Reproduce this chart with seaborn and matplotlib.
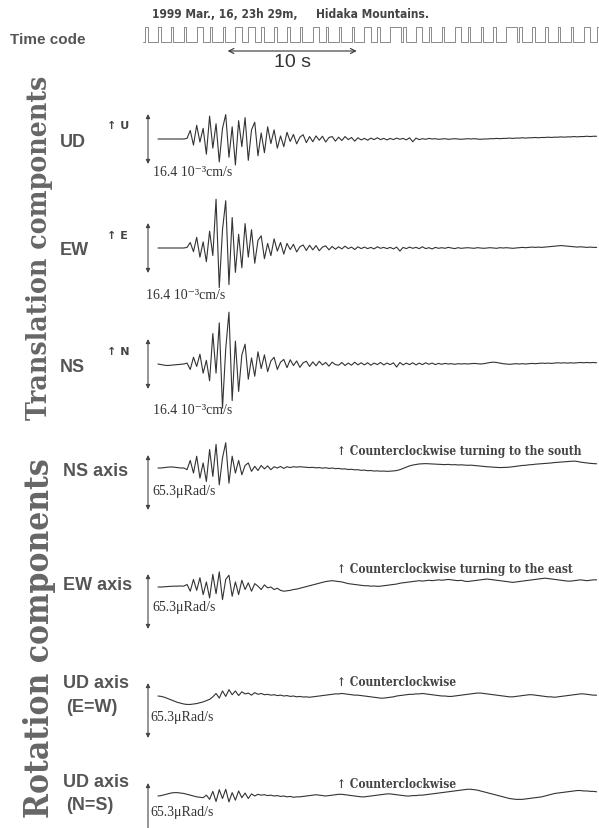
import numpy as np
import matplotlib
matplotlib.use('Agg')
import matplotlib.pyplot as plt
import seaborn as sns

sns.set_theme(style='white')
plt.rcParams['font.family'] = ['DejaVu Sans']

# ---------------- data ----------------
DT = 0.25  # sampling interval of the traces (s)

# translation components, 10^-3 cm/s
ud = [0, 0, 0, 0, 0, 0, 0, 0,
      0, 0.2, 2.8, -2.0, 4.5, -1.0, 3.5, -5.0,
      7.5, -3.0, 5.0, -7.5, 3.5, 8.0, -6.0, 4.0,
      -8.5, 6.0, -2.5, 7.0, -7.0, 3.0, 5.5, -5.5,
      2.0, -4.5, 4.0, -1.5, 3.0, -3.0, 1.0, -2.5,
      2.2, -0.8, 1.5, -1.6, 0.6, 1.4, -1.2, 0.8,
      -0.9, 1.0, -0.4, 0.9, -1.0, 0.5, 0.8, -0.7,
      0.6, -0.5, 0.8, -0.2, 0.5, -0.7, 0.4, -0.3,
      0.2, -0.4, 0.3, -0.2, 0.4, -0.2, 0.2, -0.3,
      0.2, -0.2, 0.3, -0.1, 0.2, -0.3, 0.4, -0.9,
      0.3, -0.2, 0.1, -0.1, 0.2, 0, 0.1, -0.1,
      0, 0.1, -0.1, 0, 0.1, 0, -0.1, 0,
      0.1, 0, 0.1, 0, -0.1, 0, 0, 0.1,
      0.1, 0.2, 0.1, 0.2, 0.2, 0.3, 0.2, 0.3,
      0.3, 0.4, 0.3, 0.4, 0.4, 0.5, 0.4, 0.5,
      0.5, 0.6, 0.5, 0.6, 0.6, 0.7, 0.6, 0.7,
      0.7, 0.8, 0.7, 0.8, 0.8, 0.9, 0.8, 0.9,
      0.9]

ew = [0, 0, 0, 0, 0, 0, 0, 0,
      0, 0.2, 1.8, -1.2, 3.5, -3.0, 2.0, -4.5,
      5.5, -2.5, 16.0, -13.0, 6.0, 15.5, -12.0, 10.0,
      -8.0, 4.5, -6.5, 8.0, -3.0, 6.0, -5.0, 2.5,
      4.0, -3.5, 1.5, -2.5, 3.0, -1.0, 1.8, -2.0,
      1.5, -0.5, 1.2, -1.3, 0.4, 1.0, -0.8, 0.9,
      -0.6, 0.8, -0.9, 0.3, 0.7, -0.6, 0.5, -0.4,
      0.4, -0.3, 0.6, -0.2, 0.3, -0.5, 0.4, -0.2,
      0.3, -0.2, 0.2, -0.3, 0.4, -0.1, 0.2, -0.2,
      0.2, -0.3, 0.3, -1.0, 0.2, -0.2, 0.3, -0.1,
      0.2, -0.2, 0.4, -0.2, 0.1, -0.3, 0.2, -0.1,
      0.1, -0.1, 0.2, 0, -0.2, 0.1, -0.1, 0,
      0.1, 0, -0.1, 0.1, 0, -0.1, 0, 0.1,
      0, -0.1, 0.1, 0, 0.1, 0, -0.1, 0,
      0.1, 0.2, 0.1, 0.2, 0.3, 0.2, 0.3, 0.2,
      0.3, 0.4, 0.5, 0.6, 0.7, 0.8, 0.7, 0.6,
      0.5, 0.4, 0.3, 0.4, 0.3, 0.2, 0.3, 0.2,
      0.2]

ns = [0, -0.2, -0.4, -0.5, -0.4, -0.3, -0.2, -0.1,
      0, 0.3, -1.8, 2.2, -0.8, 3.2, -3.0, 1.2,
      -5.5, 10.0, -3.0, 13.5, -14.5, 5.0, 17.0, -12.0,
      7.5, -9.0, 3.0, 6.5, -5.0, 2.0, -4.0, 4.0,
      -1.5, 3.0, -2.5, 1.0, 2.2, -1.8, 0.6, 1.5,
      -1.2, 1.4, -0.5, 1.0, -1.1, 0.4, 0.9, -0.8,
      0.7, -0.6, 0.9, -0.3, 0.5, -0.7, 0.6, -0.2,
      -0.4, 0.5, -0.5, 0.3, -0.4, 0.6, -0.3, 0.4,
      -0.3, 0.4, -0.4, 0.3, -0.2, 0.5, -0.3, 0.3,
      -0.2, 0.4, -1.0, 0.5, -0.3, 0.3, -0.2, 0.4,
      -0.3, 0.3, -0.2, 0.4, -0.1, 0.3, -0.2, 0.2,
      -0.1, 0.2, 0, 0.1, -0.1, 0.1, 0, 0.1,
      0, 0.1, 0.2, 0.1, 0, 0.1, 0.3, 0.5,
      0.6, 0.5, 0.3, 0.1, 0, -0.1, 0, 0.1,
      0, 0.1, 0, 0.1, 0.2, 0.1, 0.2, 0.3,
      0.2, 0.3, 0.2, 0.3, 0.4, 0.3, 0.4, 0.3,
      0.4, 0.3, 0.4, 0.5, 0.4, 0.5, 0.4, 0.5,
      0.4]

# rotation components, microRad/s
ns_axis = [0, 0, 0.5, 1.0, 1.2, 1.0, 0.5, 0,
           0, -2, 9, -6, 14, -12, 6, -16,
           22, -10, 28, -20, 12, 30, -18, 14,
           -6, 9, -8, 3, 6, -4, 2, -3,
           3, -1, 2.5, -2, 1.5, 0, 1.8, -0.5,
           1.5, 0.5, 1.5, 1, 1.5, 1.2, 1.0, 0.5,
           0.8, 0.2, 0.5, -0.2, 0.3, -0.5, 0, -0.8,
           -0.5, -1.2, -1.0, -1.8, -1.5, -2.2, -2.0, -2.8,
           -2.5, -3.2, -3.0, -3.6, -3.4, -3.8, -3.6, -4.0,
           -3.8, -3.5, -3.0, -2.0, -0.5, 1.0, 2.5, 3.5,
           4.2, 4.8, 5.0, 5.2, 5.0, 4.8, 4.6, 4.5,
           4.2, 4.0, 4.3, 3.8, 4.0, 3.6, 3.8, 3.5,
           3.2, 3.4, 3.0, 2.6, 2.2, 1.8, 1.5, 1.2,
           1.0, 0.8, 0.5, 0.6, 0.8, 1.0, 1.5, 2.0,
           2.5, 3.0, 3.2, 3.8, 4.0, 4.5, 4.8, 5.2,
           5.5, 5.8, 6.0, 6.5, 6.8, 7.2, 7.5, 7.8,
           8.0, 8.2, 7.8, 7.0, 6.5, 6.0, 5.5, 5.2,
           5.0]

ew_axis = [0, 0, 0.3, 0.5, 0.8, 1.0, 1.0, 1.2,
           1.0, 3, -5, 9, -4, 11, -9, 6,
           -13, 15, -8, 18, -15, 9, 14, -11,
           6, -9, 8, -3, 5, -5, 4, 1,
           -3, 2.5, -1, 0, -3, -1.5, -4, -5,
           -4.5, -4, -3, -2.5, -1.5, -0.5, 0.5, 1.5,
           2.5, 3.5, 4.5, 5.5, 6.5, 7, 7.5, 7,
           6.5, 6, 5, 4, 3.5, 3, 2.5, 2,
           1.5, 1.5, 1, 1.2, 0.8, 1, 1.5, 2,
           2.5, 3, 3.5, 4.5, 5, 5.5, 6, 6.5,
           7, 7.5, 7, 7.5, 8, 7.5, 8, 8.5,
           8, 8.5, 9, 8.5, 8, 7.5, 8, 7,
           6.5, 7, 7.5, 8, 8.5, 9, 9.5, 9,
           8.5, 8, 7.5, 7, 6.5, 6, 5.5, 6,
           6.5, 7, 7.5, 8, 8.5, 9, 9.5, 10,
           10.5, 10, 9.5, 9, 8.5, 8, 7.5, 7,
           7, 7.5, 8, 8.5, 8, 7.5, 8, 8.5,
           8.5]

ud_axis_ew = [0, -0.5, -1.5, -3, -4.5, -6, -7.5, -8.5,
              -9.5, -10, -10, -9.5, -9, -8, -7, -5.5,
              -4, -1, 3, -2.5, 6, -0.5, 7.5, 1.5,
              6, 0.5, 5, 2.5, 3.5, 1, 4, 2,
              3, 1.5, 2, 1, 1.5, 0.5, 1, 0,
              0.5, -0.5, 0, -1, -0.5, -1.2, -1, -1.5,
              -1, -0.5, 0, 0.5, 1, 1.5, 2, 2.5,
              2.5, 3, 2.5, 2, 1.5, 1, 1, 0.5,
              0, -0.5, -1, -1.5, -2, -2.5, -2.5, -2,
              -1.5, -1, 0, 0.5, 1, 1.5, 2, 2,
              2.5, 2.5, 3, 2.5, 2, 1.5, 1, 0.5,
              0, 0, -0.5, -0.5, 0, 0.5, 1, 1.5,
              2, 2.5, 3, 3.5, 3.5, 3, 2.5, 2,
              1.5, 1, 0.5, 0, -0.5, -1, -1, -0.5,
              0, 0.5, 1, 1.5, 1.5, 1, 0.5, 0,
              -0.5, -1, -1, -1.5, -1, -0.5, 0, 0.5,
              1, 1.5, 2, 2.5, 2.5, 2, 1.5, 1,
              1]

ud_axis_ns = [0, 0.5, 1.5, 2.5, 3.5, 4, 4, 3.5,
              3, 2, 1, 0, -1, -1.5, -2, 1,
              -4, 5.5, -6.5, 7.5, -3, 8, -7, 4,
              -5, 6, -2, 3.5, -3, 2.5, 0, 2,
              1, 1.5, 0.5, 1, 0, 0.5, -0.5, 0,
              -1, -0.5, -1.5, -1, -1, -0.5, 0, 0.5,
              1, 1.5, 1, 0.5, 0, 0.5, 1, 1.5,
              2, 2, 1.5, 1, 0.5, 0, -0.5, -1,
              -1, -0.5, 0, 0.5, 1, 1.5, 2, 2.5,
              2.5, 2, 1.5, 1, 0.5, 0, 0, 0.5,
              0.5, 1, 1, 1.5, 2, 2.5, 3, 3.5,
              4, 4.5, 5, 5.5, 6, 6.5, 7, 7.5,
              8, 8, 7.5, 7, 6, 5, 4, 3,
              2, 1, 0, -1, -2, -3, -3.5, -4,
              -4, -4, -3.5, -3, -2.5, -2, -1.5, -1,
              0, 1, 2, 3, 3.5, 4, 4.5, 5,
              5.5, 6, 6.5, 6.5, 6, 6, 5.5, 5.5,
              5]

# time code: high-pulse width (s) at the start of each second
code_start = -1.0
code_widths = [0.2, 0.2, 0.2, 0.2, 0.5, 0.2, 0.2, 0.5, 0.5, 0.2, 0.2, 0.2,
               0.2, 0.5, 0.2, 0.2, 0.2, 0.5, 0.2, 0.8, 0.2, 0.5, 0.2, 0.2,
               0.5, 0.2, 0.2, 0.2, 0.8, 0.2, 0.2, 0.2, 0.2, 0.2, 0.5, 0.2]
bar_start, bar_len = 5.4, 10  # "10 s" reference arrow

trans_scale = 16.4  # 10^-3 cm/s
rot_scale = 65.3    # microRad/s

# ---------------- layout ----------------
W, H = 599, 829
fig = plt.figure(figsize=(W / 100, H / 100), dpi=100)
fig.patch.set_facecolor('white')

X0, X1 = 143, 599
PXS = 12.9
T0 = -(158 - X0) / PXS
T1 = T0 + (X1 - X0) / PXS
TRACE_C = '#333333'


def px_axes(x0, y0, w, h):
    ax = fig.add_axes([x0 / W, 1 - (y0 + h) / H, w / W, h / H])
    ax.set_axis_off()
    ax.patch.set_alpha(0)
    return ax


serif_b = dict(family=['DejaVu Serif', 'DejaVu Sans'], weight='bold', stretch='condensed')
narrow_b = dict(family=['Liberation Sans', 'DejaVu Sans'], weight='bold')
cond_b = dict(family=['DejaVu Sans'], weight='bold', stretch='condensed')
times = dict(family=['Liberation Serif', 'DejaVu Serif'])

traces = [
    (ud, 140, trans_scale / 50, 'trans'),
    (ew, 249, trans_scale / 50, 'trans'),
    (ns, 365, trans_scale / 50, 'trans'),
    (ns_axis, 469, rot_scale / 55, 'rot'),
    (ew_axis, 588, rot_scale / 55, 'rot'),
    (ud_axis_ew, 697, rot_scale / 55, 'rot'),
    (ud_axis_ns, 797, rot_scale / 55, 'rot'),
]

arrow_t = (148 - 158) / PXS
for vals, base, k, kind in traces:
    ax = px_axes(X0, base - 70, X1 - X0, 140)
    ax.set_xlim(T0, T1)
    ax.set_ylim(-70 * k, 70 * k)
    t = np.arange(len(vals)) * DT
    sns.lineplot(x=t, y=vals, ax=ax, color=TRACE_C, lw=0.8,
                 estimator=None, sort=False)
    for ln in ax.lines:
        ln.set_clip_on(False)
    if kind == 'trans':
        top, bot = trans_scale / 2, -trans_scale / 2
    else:
        top = 13 * k
        bot = top - rot_scale
    ax.annotate('', xy=(arrow_t, top), xytext=(arrow_t, bot),
                arrowprops=dict(arrowstyle='<|-|>', lw=0.8, color='#444444',
                                mutation_scale=6, shrinkA=0, shrinkB=0),
                annotation_clip=False)

# time code
tc = px_axes(X0, 20, X1 - X0, 40)
tc.set_xlim(T0, T1)
tc.set_ylim(-(60 - 43) / 15, (43 - 20) / 15)
xs, ys = [T0], [0]
for i, w in enumerate(code_widths):
    s = code_start + i
    xs += [s, s, s + w, s + w]
    ys += [0, 1, 1, 0]
xs.append(T1)
ys.append(0)
sns.lineplot(x=xs, y=ys, ax=tc, color='#777777', lw=0.6, estimator=None, sort=False)
tc.annotate('', xy=(bar_start, -0.6), xytext=(bar_start + bar_len, -0.6),
            arrowprops=dict(arrowstyle='<->', lw=0.8, color='#333333',
                            mutation_scale=9, shrinkA=0, shrinkB=0))

# text overlay
ov = fig.add_axes([0, 0, 1, 1])
ov.set_xlim(0, W)
ov.set_ylim(H, 0)
ov.set_axis_off()
ov.patch.set_alpha(0)

ov.text(297, 14, '1999 Mar., 16, 23h 29m,', fontsize=8.6, color='#444444',
        ha='right', va='center', **cond_b)
ov.text(316, 14, 'Hidaka Mountains.', fontsize=8.6, color='#444444', va='center', **cond_b)
ov.text(10, 40, 'Time code', fontsize=11, color='#555555', va='center', **narrow_b)
ov.text(292, 62, '10 s', fontsize=14, color='#333333', ha='center', va='center',
        family=['Liberation Sans', 'DejaVu Sans'])

ov.text(40, 248, 'Translation components', rotation=90, fontsize=20.3, color='#666666',
        ha='center', va='center', **serif_b)
ov.text(40, 638, 'Rotation components', rotation=90, fontsize=24, color='#666666',
        ha='center', va='center', **serif_b)

labels = [('UD', 60, 142), ('EW', 60, 250), ('NS', 60, 367),
          ('NS axis', 63, 471), ('EW axis', 63, 586),
          ('UD axis', 63, 683), ('(E=W)', 66, 707),
          ('UD axis', 63, 783), ('(N=S)', 66, 806)]
for s, x, y in labels:
    ov.text(x, y, s, fontsize=13, color='#555555', va='center', **narrow_b)

for s, y in [('U', 126), ('E', 236), ('N', 352)]:
    ov.text(107, y, '↑ ' + s, fontsize=8, color='#444444', va='center',
            family=['DejaVu Sans'], weight='bold')

for x, y in [(153, 172), (146, 295), (153, 410)]:
    ov.text(x, y, '16.4 10⁻³cm/s', fontsize=10, color='#333333', va='center', **times)
for x, y in [(152, 492), (152, 607), (150, 717), (150, 813)]:
    ov.text(x, y, '65.3μRad/s', fontsize=10, color='#333333', va='center', **times)

notes = [('↑ Counterclockwise turning to the south', 452),
         ('↑ Counterclockwise turning to the east', 570),
         ('↑ Counterclockwise', 683),
         ('↑ Counterclockwise', 785)]
for s, y in notes:
    ov.text(337, y, s, fontsize=8.6, color='#444444', va='center', **serif_b)

fig.savefig('out.png', dpi=100, facecolor='white')
